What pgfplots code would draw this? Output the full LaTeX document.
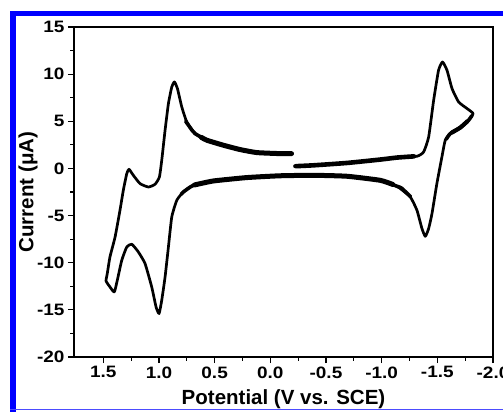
\documentclass[border=0pt]{standalone}
\usepackage{pgfplots}
\pgfplotsset{compat=1.18}
\usepackage{fontspec}
\setmainfont{Liberation Sans}
\newfontfamily\tickfont{Liberation Sans}[FakeStretch=1.15]
\begin{document}
\begin{tikzpicture}
\path[use as bounding box] (0,0) rectangle (503pt,412pt);
\fill[white] (0,0) rectangle (503pt,412pt);
\fill[blue] (10pt,0pt) rectangle (15.5pt,400.5pt);
\fill[blue] (10pt,395.5pt) rectangle (503pt,400.5pt);
\fill[blue!70!white] (10pt,1.5pt) rectangle (503pt,2.8pt);
\begin{axis}[
  at={(74pt,55pt)}, anchor=south west,
  scale only axis, width=419pt, height=330pt,
  x dir=reverse,
  xmin=-2, xmax=1.763, ymin=-20, ymax=15,
  xtick={-2,-1.5,-1,-0.5,0,0.5,1,1.5},
  ytick={-20,-15,-10,-5,0,5,10,15},
  minor x tick num=1, minor y tick num=1,
  tick pos=left, tick align=outside,
  major tick length=6pt, minor tick length=3.5pt,
  axis line style={black, line width=1.1pt},
  tick style={black, line width=1.1pt},
  /pgf/number format/assume math mode=true,
  xticklabel style={font=\tickfont\bfseries\fontsize{16.5}{16.5}\selectfont,
    /pgf/number format/.cd, fixed, fixed zerofill, precision=1},
  yticklabel style={font=\tickfont\bfseries\fontsize{16.5}{16.5}\selectfont},
  xlabel={Potential (V vs. SCE)},
  ylabel={Current (μA)},
  xlabel style={font=\bfseries\fontsize{20.5}{20.5}\selectfont, at={(rel axis cs:0.5,0)}, anchor=center, yshift=-42pt},
  ylabel style={font=\bfseries\fontsize{20.5}{20.5}\selectfont, at={(rel axis cs:0,0.5)}, anchor=center, yshift=46pt},
]
\addplot[black, line width=2.7pt, line join=round, smooth, tension=0.3] coordinates {
(-0.208,0.23) (-0.388,0.33) (-0.688,0.58) (-0.987,0.94) (-1.137,1.15) (-1.317,1.29) (-1.377,1.75) (-1.422,3.33) (-1.467,7.23) (-1.511,10.41) (-1.547,11.29) (-1.587,10.41) (-1.632,8.47) (-1.691,7.05) (-1.767,6.35) (-1.821,5.82) (-1.781,5.11) (-1.706,4.33) (-1.616,3.69) (-1.571,2.99) (-1.541,1.21) (-1.496,-1.61) (-1.452,-4.79) (-1.422,-6.38) (-1.392,-7.2) (-1.362,-6.38) (-1.317,-4.44) (-1.257,-3.03) (-1.137,-1.89) (-0.987,-1.26) (-0.688,-0.83) (-0.388,-0.73) (-0.088,-0.78) (0.211,-0.97) (0.511,-1.33) (0.691,-1.79) (0.781,-2.5) (0.840,-3.38) (0.885,-5.15) (0.915,-8.33) (0.945,-11.51) (0.975,-13.98) (0.999,-15.39) (1.026,-14.69) (1.065,-12.57) (1.125,-10.09) (1.185,-8.86) (1.244,-8.04) (1.289,-8.33) (1.334,-9.74) (1.374,-11.86) (1.401,-13.1) (1.440,-12.57) (1.475,-11.93) (1.464,-11.15) (1.440,-9.39) (1.394,-7.27) (1.350,-4.44) (1.320,-2.32) (1.289,-0.55) (1.269,-0.09) (1.230,-0.73) (1.170,-1.61) (1.095,-1.97) (1.035,-1.68) (0.996,-0.91) (0.975,0.86) (0.945,4.05) (0.915,6.88) (0.885,8.64) (0.861,9.17) (0.834,8.47) (0.795,6.52) (0.750,4.93) (0.675,3.69) (0.570,2.99) (0.421,2.46) (0.271,2.0) (0.121,1.68) (-0.088,1.57) (-0.21,1.57)
};
% graded thicker flat parts
\addplot[black, line width=3.6pt, line cap=round, smooth, tension=0.3] coordinates {
(-1.26,-3.0) (-1.18,-2.1) (-1.137,-1.89) (-0.987,-1.26) (-0.688,-0.83) (-0.388,-0.73) (-0.088,-0.78) (0.211,-0.97) (0.511,-1.33) (0.691,-1.79) (0.781,-2.5) (0.80,-2.75)
};
\addplot[black, line width=3.6pt, line cap=round, smooth, tension=0.3] coordinates {
(0.76,5.0) (0.70,4.0) (0.675,3.69) (0.570,2.99) (0.421,2.46) (0.271,2.0)
};
\addplot[black, line width=3.6pt, line cap=round, smooth, tension=0.3] coordinates {
(-1.81,5.6) (-1.781,5.11) (-1.706,4.33) (-1.616,3.69) (-1.58,3.1)
};
\addplot[black, line width=4.6pt, line cap=round, smooth, tension=0.3] coordinates {
(-0.23,0.24) (-0.388,0.33) (-0.688,0.58) (-0.987,0.94) (-1.137,1.15) (-1.29,1.28)
};
\addplot[black, line width=5pt, line cap=round, smooth, tension=0.3] coordinates {
(-1.10,-1.7) (-0.987,-1.26) (-0.688,-0.83) (-0.388,-0.73) (-0.088,-0.78) (0.211,-0.97) (0.511,-1.33) (0.68,-1.75)
};
\addplot[black, line width=5pt, line cap=round, smooth, tension=0.3] coordinates {
(0.62,3.3) (0.570,2.99) (0.421,2.46) (0.271,2.0) (0.121,1.68) (-0.088,1.57) (-0.19,1.57)
};
\addplot[black, line width=4.2pt, line cap=round, smooth, tension=0.3] coordinates {
(-1.77,5.0) (-1.706,4.33) (-1.63,3.8)
};
\end{axis}
\end{tikzpicture}
\end{document}
